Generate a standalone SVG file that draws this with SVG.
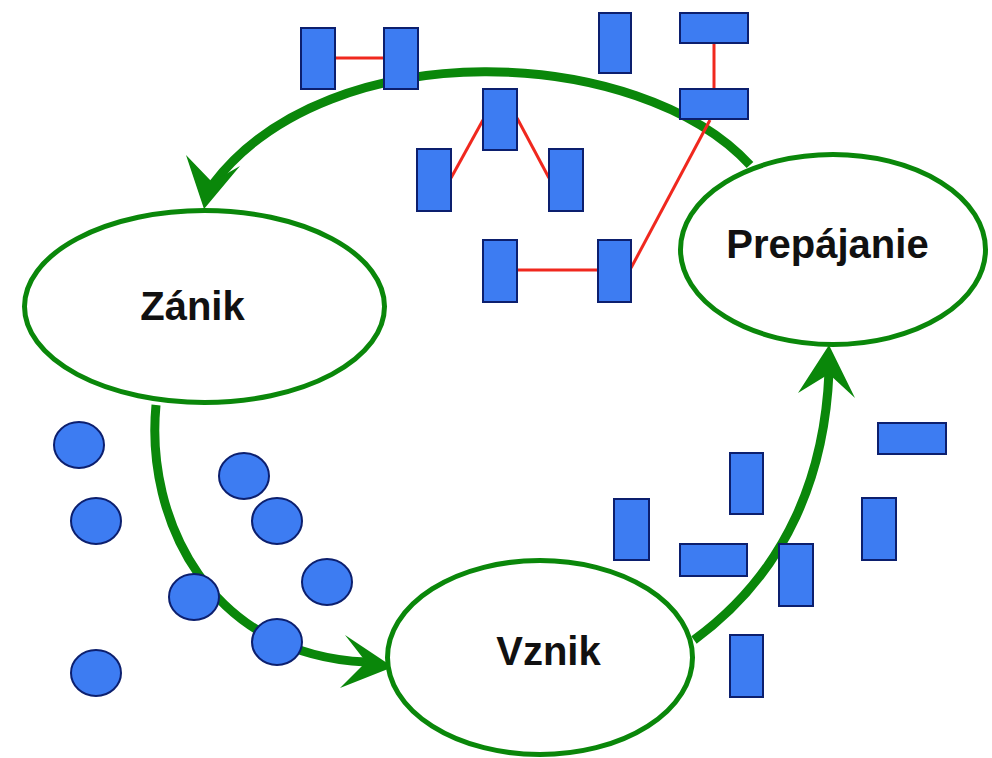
<svg xmlns="http://www.w3.org/2000/svg" width="992" height="758" viewBox="0 0 992 758">
<style>
.bg{fill:#ffffff}
.flow{fill:none;stroke:#0a870a;stroke-width:9;stroke-linecap:butt}
.head{fill:#0a870a;stroke:none}
.link{stroke:#f0281e;stroke-width:3;fill:none}
.state{fill:#ffffff;stroke:#0a870a;stroke-width:5}
.lbl{font-family:"Liberation Sans",Arial,sans-serif;font-weight:bold;font-size:40px;fill:#111111;text-anchor:middle}
.blk{fill:#3d7cf2;stroke:#0c1f6e;stroke-width:2}
</style>
<rect class="bg" x="0" y="0" width="992" height="758"/>
<g id="connectors">
  <path class="flow" d="M750,165 C640,45 330,30 213,184"/>
  <polygon class="head" points="204,209 186,155 212,182 240,166"/>
  <path class="flow" d="M156,405 C145,520 210,655 366,662"/>
  <polygon class="head" points="393,667 345,635 366,662 340,688"/>
  <path class="flow" d="M694,640 C790,570 825,470 829,372"/>
  <polygon class="head" points="829,345 855,398 829,374 798,393"/>
  <line class="link" x1="335" y1="58" x2="384" y2="58"/>
  <line class="link" x1="451" y1="178" x2="483" y2="120"/>
  <line class="link" x1="517" y1="118" x2="549" y2="178"/>
  <line class="link" x1="517" y1="270" x2="598" y2="270"/>
  <line class="link" x1="631" y1="268" x2="710" y2="120"/>
  <line class="link" x1="714" y1="43" x2="714" y2="89"/>
</g>
<g id="zanik">
  <ellipse class="state" cx="204.5" cy="306.5" rx="180" ry="96"/>
  <text class="lbl" x="192.5" y="320">Zánik</text>
</g>
<g id="prepajanie">
  <ellipse class="state" cx="833" cy="249.5" rx="152.5" ry="95"/>
  <text class="lbl" x="827.5" y="258">Prepájanie</text>
</g>
<g id="vznik">
  <ellipse class="state" cx="540" cy="657.5" rx="152.5" ry="97"/>
  <text class="lbl" x="548.5" y="665">Vznik</text>
</g>
<g id="blocks">
  <rect class="blk" x="301" y="28" width="34" height="61"/>
  <rect class="blk" x="384" y="28" width="34" height="61"/>
  <rect class="blk" x="599" y="13" width="32" height="60"/>
  <rect class="blk" x="680" y="13" width="68" height="30"/>
  <rect class="blk" x="680" y="89" width="68" height="30"/>
  <rect class="blk" x="483" y="89" width="34" height="61"/>
  <rect class="blk" x="417" y="149" width="34" height="62"/>
  <rect class="blk" x="549" y="149" width="34" height="62"/>
  <rect class="blk" x="483" y="240" width="34" height="62"/>
  <rect class="blk" x="598" y="240" width="33" height="62"/>
  <rect class="blk" x="614" y="499" width="35" height="61"/>
  <rect class="blk" x="730" y="453" width="33" height="61"/>
  <rect class="blk" x="680" y="544" width="67" height="32"/>
  <rect class="blk" x="779" y="544" width="34" height="62"/>
  <rect class="blk" x="878" y="423" width="68" height="31"/>
  <rect class="blk" x="862" y="498" width="34" height="62"/>
  <rect class="blk" x="730" y="635" width="33" height="62"/>
</g>
<g id="particles">
  <ellipse class="blk" cx="79" cy="445" rx="25" ry="23"/>
  <ellipse class="blk" cx="96" cy="521" rx="25" ry="23"/>
  <ellipse class="blk" cx="244" cy="476" rx="25" ry="23"/>
  <ellipse class="blk" cx="277" cy="521" rx="25" ry="23"/>
  <ellipse class="blk" cx="327" cy="582" rx="25" ry="23"/>
  <ellipse class="blk" cx="194" cy="597" rx="25" ry="23"/>
  <ellipse class="blk" cx="277" cy="642" rx="25" ry="23"/>
  <ellipse class="blk" cx="96" cy="673" rx="25" ry="23"/>
</g>
</svg>
